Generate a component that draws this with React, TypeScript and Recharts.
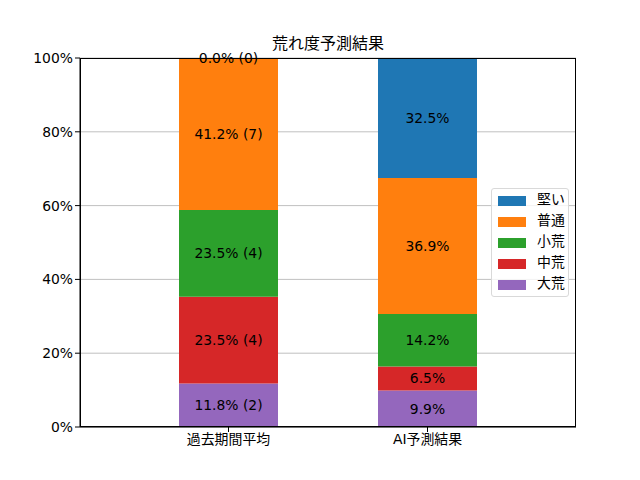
import React from 'react'
import { Bar, BarChart, CartesianGrid, LabelList, XAxis, YAxis } from 'recharts'

const categories = ['過去期間平均', 'AI予測結果']
const levels = ['大荒', '中荒', '小荒', '普通', '堅い']
const colors = ['#9467bd', '#d62728', '#2ca02c', '#ff7f0e', '#1f77b4']

// percentages, bottom to top
const pastPct = [11.8, 23.5, 23.5, 41.2, 0.0]
const pastCounts = [2, 4, 4, 7, 0]
const aiPct = [9.9, 6.5, 14.2, 36.9, 32.5]

const yTicks = [0, 20, 40, 60, 80, 100]

const FONT = '"DejaVu Sans", "Noto Sans CJK JP", sans-serif'

const data = categories.map((name, ci) => {
  const row: Record<string, string | number> = { name }
  levels.forEach((lv, li) => {
    const pct = ci === 0 ? pastPct[li] : aiPct[li]
    row[lv] = pct
    row[`${lv}_label`] = ci === 0 ? `${pct.toFixed(1)}% (${pastCounts[li]})` : `${pct.toFixed(1)}%`
  })
  return row
})

function SegmentLabel(props: any) {
  const { x, y, width, height, value } = props
  return (
    <text
      x={Number(x) + Number(width) / 2}
      y={Number(y) + Number(height) / 2}
      textAnchor="middle"
      dominantBaseline="central"
      fontSize={13.9}
      fontFamily={FONT}
      fill="#000"
    >
      {value}
    </text>
  )
}

function LegendBox() {
  const order = [...levels].reverse()
  const cols = [...colors].reverse()
  return (
    <div
      style={{
        position: 'absolute',
        left: 491,
        top: 188,
        width: 78,
        height: 109,
        boxSizing: 'border-box',
        border: '1px solid #d9d9d9',
        borderRadius: 3,
        background: 'rgba(255,255,255,0.8)',
        padding: '1px 0 0 6px',
        fontFamily: FONT,
        fontSize: 13.9,
        color: '#000',
        whiteSpace: 'nowrap',
      }}
    >
      {order.map((lv, i) => (
        <div key={lv} style={{ display: 'flex', alignItems: 'center', height: 21 }}>
          <span style={{ width: 28, height: 10, background: cols[i], display: 'inline-block', marginRight: 11 }} />
          <span style={{ lineHeight: '21px', marginTop: -2 }}>{lv}</span>
        </div>
      ))}
    </div>
  )
}

export default function App() {
  return (
    <div style={{ position: 'absolute', left: 0, top: 0, width: 640, height: 480, background: '#fff' }}>
      <div
        style={{
          position: 'absolute',
          top: 30,
          left: 80,
          width: 496,
          textAlign: 'center',
          fontFamily: FONT,
          fontSize: 16,
          color: '#000',
        }}
      >
        荒れ度予測結果
      </div>
      <BarChart
        width={640}
        height={480}
        data={data}
        margin={{ top: 58, right: 64, bottom: 0, left: 0 }}
        barCategoryGap={0}
      >
        <CartesianGrid horizontal vertical={false} stroke="#b0b0b0" strokeWidth={0.8} />
        <XAxis
          dataKey="name"
          height={53}
          padding={{ left: 49, right: 49 }}
          tickLine={{ stroke: '#000' }}
          axisLine={{ stroke: '#000' }}
          tickSize={5}
          tick={{ fill: '#000', fontSize: 13.9, fontFamily: FONT }}
        />
        <YAxis
          width={80}
          domain={[0, 100]}
          ticks={yTicks}
          tickFormatter={(v) => `${v}%`}
          tickLine={{ stroke: '#000' }}
          axisLine={{ stroke: '#000' }}
          tickSize={5}
          tick={{ fill: '#000', fontSize: 13.9, fontFamily: FONT }}
        />
        {levels.map((lv, li) => (
          <Bar key={lv} dataKey={lv} stackId="a" fill={colors[li]} barSize={99} minPointSize={0.01} isAnimationActive={false}>
            <LabelList dataKey={`${lv}_label`} content={SegmentLabel} />
          </Bar>
        ))}
      </BarChart>
      {/* axes frame (top/right spines) */}
      <div
        style={{
          position: 'absolute',
          left: 80,
          top: 58,
          width: 496,
          height: 369,
          boxSizing: 'border-box',
          border: '1px solid #000',
          pointerEvents: 'none',
        }}
      />
      <LegendBox />
    </div>
  )
}
